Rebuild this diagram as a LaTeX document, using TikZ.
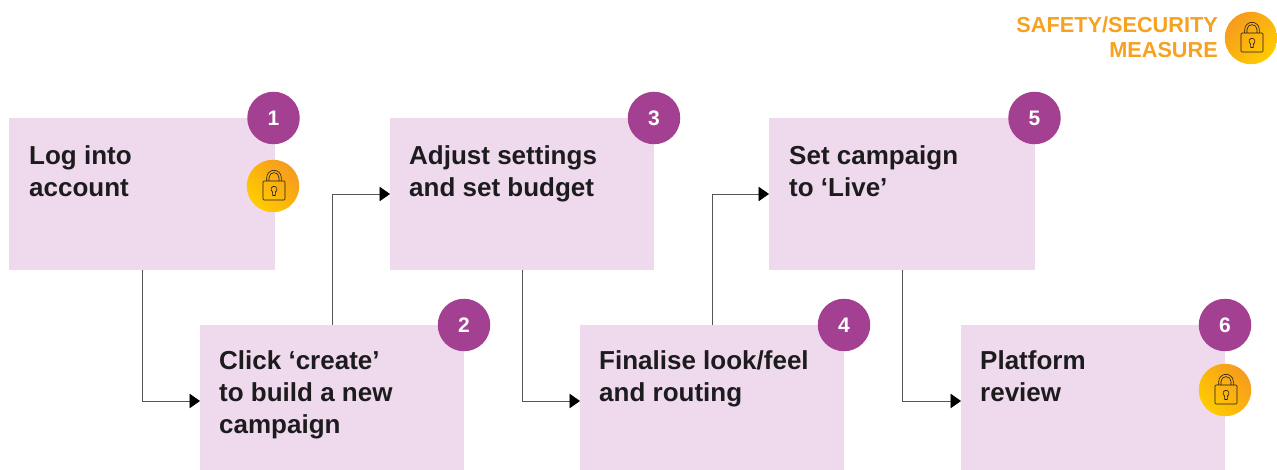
\documentclass[tikz,border=0pt]{standalone}
\usepackage{fontspec}
\setmainfont{Liberation Sans}
\usepackage{xcolor}
\usetikzlibrary{
	arrows.meta,
	calc,
	shadings
}
\definecolor{BoxPink}{RGB}{239,217,236}
\definecolor{BadgePurple}{RGB}{164,64,146}
\definecolor{LockOrange}{RGB}{247,154,30}
\definecolor{LockYellow}{RGB}{255,204,0}
\definecolor{MeasureOrange}{RGB}{247,161,31}
\definecolor{TextDark}{RGB}{28,28,30}
\definecolor{LineGrey}{RGB}{85,85,85}

\tikzset{
	stepbox/.style={fill=BoxPink, minimum width=264pt, minimum height=152pt, inner sep=0pt, outer sep=0pt, anchor=north west},
	steptext/.style={anchor=north west, inner sep=0pt, align=left, text=TextDark, font=\fontsize{26}{32}\selectfont\bfseries},
	badge/.style={circle, fill=BadgePurple, minimum size=52.5pt, inner sep=0pt, text=white, font=\fontsize{21}{21}\selectfont\bfseries},
	lockdisc/.style={circle, minimum size=52.5pt, inner sep=0pt, top color=LockOrange, bottom color=LockYellow},
	link/.style={LineGrey, line width=0.8pt, -{Triangle[length=10.5pt,width=14.5pt,color=black]}},
	padlock/.pic={
		\draw[line width=0.6pt, TextDark, rounded corners=1pt] (-10,-5) rectangle (12,14);
		\draw[line width=0.6pt, TextDark] (-6.3,-5) -- (-6.3,-8.4) arc (180:360:7.3) -- (8.3,-5);
		\draw[line width=0.6pt, TextDark] (-4,-5) -- (-4,-8.4) arc (180:360:5) -- (6,-5);
		\draw[line width=0.6pt, TextDark] (-0.2,9.5) -- (-0.5,5.9) arc (120:420:3) -- (2.2,9.5) -- cycle;
	}
}

\begin{document}
\begin{tikzpicture}[x=1pt, y=-1pt]
	\useasboundingbox (0,0) rectangle (1277,470);
	% boxes
	\node[stepbox, minimum width=266pt] (logbox) at (9,118) {};
	\node[stepbox] (clickbox) at (200,325) {};
	\node[stepbox] (adjustbox) at (390,118) {};
	\node[stepbox] (finalbox) at (580,325) {};
	\node[stepbox, minimum width=266pt] (livebox) at (769,118) {};
	\node[stepbox] (reviewbox) at (961,325) {};
	% connectors
	\draw[link] (logbox.south) |- (clickbox.west);
	\draw[link] (clickbox.north) |- (adjustbox.west);
	\draw[link] (adjustbox.south) |- (finalbox.west);
	\draw[link] (finalbox.north) |- (livebox.west);
	\draw[link] (livebox.south) |- (reviewbox.west);
	% texts
	\node[steptext] (logtext) at (29,145) {Log into\\account};
	\node[steptext] (clicktext) at (219,350) {Click ‘create’\\to build a new\\campaign};
	\node[steptext] (adjusttext) at (409,145) {Adjust settings\\and set budget};
	\node[steptext] (finaltext) at (599,350) {Finalise look/feel\\and routing};
	\node[steptext] (livetext) at (789,145) {Set campaign\\to ‘Live’};
	\node[steptext] (reviewtext) at (980,350) {Platform\\review};
	% numbers
	\node[badge, xshift=-1.5pt] (one) at (logbox.north east) {1};
	\node[badge] (two) at (clickbox.north east) {2};
	\node[badge] (three) at (adjustbox.north east) {3};
	\node[badge] (four) at (finalbox.north east) {4};
	\node[badge, xshift=-0.5pt] (five) at (livebox.north east) {5};
	\node[badge] (six) at (reviewbox.north east) {6};
	% locks
	\node[lockdisc, shading angle=-45] (loglock) at (273,186) {};
	\pic at (loglock) {padlock};
	\node[lockdisc, shading angle=-45] (reviewlock) at (1225,390) {};
	\pic at (reviewlock) {padlock};
	\node[lockdisc, shading angle=45] (measurelock) at (1251,38) {};
	\pic at (measurelock) {padlock};
	\node[anchor=east, inner sep=0pt, align=right, text=MeasureOrange, font=\fontsize{21.7}{25}\selectfont\bfseries] (measuretext) at (1218,37) {SAFETY/SECURITY\\MEASURE};
\end{tikzpicture}
\end{document}
